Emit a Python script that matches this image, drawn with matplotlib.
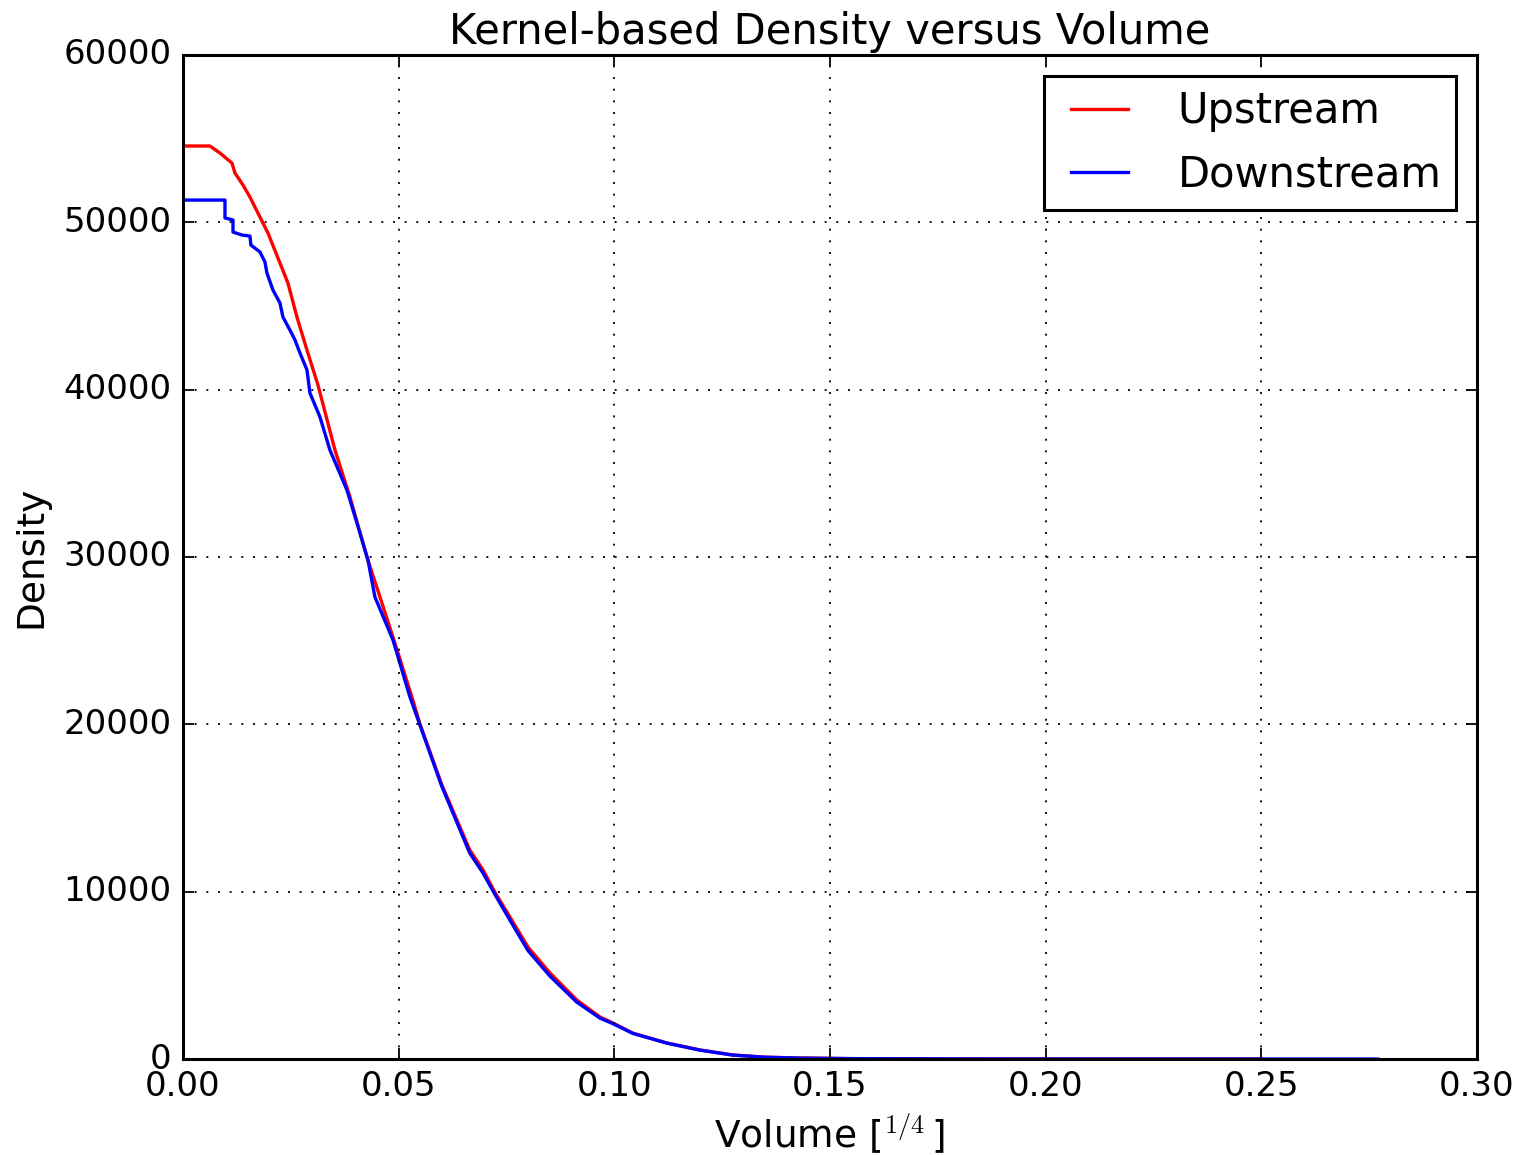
import matplotlib
matplotlib.use("Agg")
import matplotlib.pyplot as plt

plt.style.use("classic")
plt.rcParams["font.family"] = ["DejaVu Sans"]
plt.rcParams["mathtext.fontset"] = "cm"

# Kernel density estimates evaluated along the volume axis
up_volume = [0.0, 0.00626, 0.00858, 0.01136, 0.01206, 0.01391, 0.01553, 0.01785,
             0.01971, 0.02249, 0.02434, 0.02643, 0.02875, 0.03130, 0.03524,
             0.03872, 0.04266, 0.04869, 0.05309, 0.05495, 0.0600, 0.0665,
             0.0696, 0.0723, 0.0758, 0.0800, 0.0851, 0.0913, 0.0967, 0.0997,
             0.1043, 0.1122, 0.1199, 0.1275, 0.135, 0.143, 0.155, 0.18,
             0.21, 0.25]
up_density = [54560, 54560, 54140, 53540, 52950, 52230, 51510, 50320,
              49360, 47570, 46370, 44340, 42370, 40280, 36390,
              33590, 30000, 25220, 21630, 20020, 16400, 12490,
              11290, 9980, 8490, 6690, 5140, 3530, 2510, 2150,
              1550, 956, 540, 240, 110, 60, 25, 6,
              1, 0]

down_volume = [0.0, 0.00974, 0.00974, 0.0116, 0.0116, 0.01368, 0.01553, 0.01576,
               0.01785, 0.01901, 0.01947, 0.02087, 0.02249, 0.02318, 0.02481,
               0.02597, 0.02713, 0.02875, 0.02944, 0.03176, 0.03408, 0.03802,
               0.04034, 0.04289, 0.04451, 0.04869, 0.05263, 0.0600, 0.0665,
               0.0696, 0.0723, 0.0758, 0.0800, 0.0851, 0.0913, 0.0967, 0.0997,
               0.1043, 0.1122, 0.1199, 0.1275, 0.135, 0.143, 0.155, 0.18,
               0.21, 0.277]
down_density = [51330, 51330, 50260, 50140, 49420, 49240, 49180, 48640,
                48230, 47630, 46970, 45950, 45180, 44340, 43560,
                42970, 42190, 41180, 39800, 38370, 36390, 34000,
                32030, 29820, 27610, 25040, 21630, 16300, 12300,
                11100, 9850, 8300, 6480, 4950, 3400, 2440, 2110,
                1530, 950, 530, 235, 105, 55, 22, 5,
                1, 0]

x_ticks = [0.00, 0.05, 0.10, 0.15, 0.20, 0.25, 0.30]
y_ticks = [0, 10000, 20000, 30000, 40000, 50000, 60000]

fig = plt.figure(figsize=(15.22, 11.55), dpi=100, facecolor="white")
ax = fig.add_axes([0.1202, 0.0831, 0.8502, 0.8693])
ax.set_facecolor("white")

ax.plot(up_volume, up_density, color="red", lw=2.4, label="Upstream")
ax.plot(down_volume, down_density, color="blue", lw=2.4, label="Downstream")

ax.set_xlim(0, 0.30)
ax.set_ylim(0, 60000)
ax.set_xticks(x_ticks)
ax.set_yticks(y_ticks)
ax.set_xticklabels([f"{t:.2f}" for t in x_ticks])
ax.set_yticklabels([str(t) for t in y_ticks])

ax.grid(True, color="black", linestyle=(0, (1.4, 7.0)), linewidth=1.3)
ax.tick_params(which="major", direction="in", length=8, width=1.3, pad=8,
               labelsize=24.5, top=True, right=True)
for s in ax.spines.values():
    s.set_linewidth(2.2)

ax.set_title("Kernel-based Density versus Volume", fontsize=30, pad=8)
ax.set_xlabel("Volume [$^{1/4}\\,$]", fontsize=27, labelpad=6)
ax.set_ylabel("Density", fontsize=27, labelpad=10)

leg = ax.legend(loc="upper right", fontsize=30, handlelength=1.95,
                handletextpad=0.9, borderpad=0.35, labelspacing=0.5,
                borderaxespad=0.5, fancybox=False)
leg.get_frame().set_linewidth(2.2)
leg.get_frame().set_edgecolor("black")

fig.savefig("out.png", dpi=100, facecolor="white")
